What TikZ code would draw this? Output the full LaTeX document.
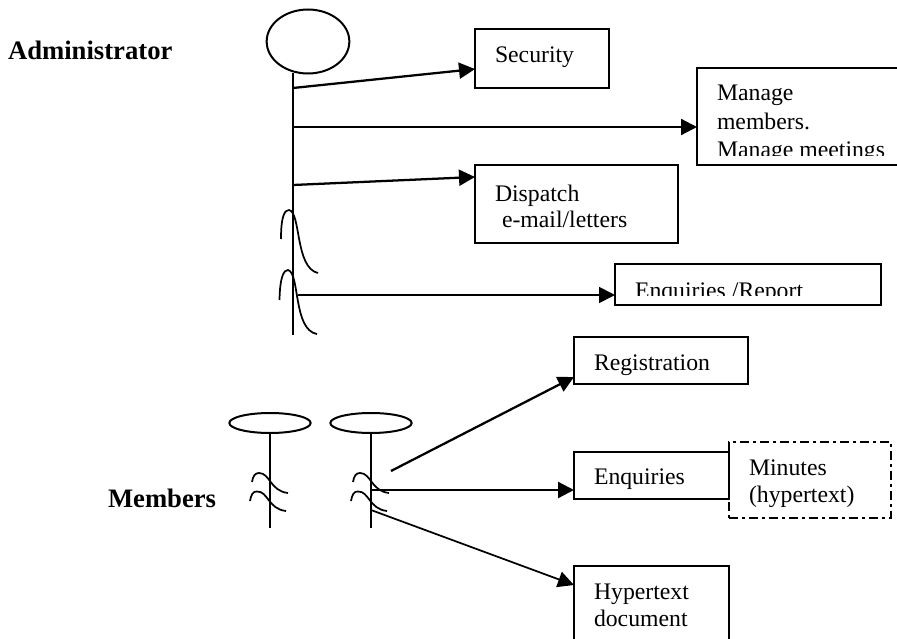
\documentclass[tikz,border=0pt]{standalone}
\usepackage{fontspec}
\setmainfont{Liberation Serif}
\usetikzlibrary{arrows.meta,shapes.geometric}
\tikzset{>={Triangle[length=12pt,width=12pt]}}
\tikzset{
    box/.style={draw,line width=1.6pt,anchor=north west,inner sep=0pt,outer sep=0pt},
    lbl/.style={anchor=base west,inner sep=0pt,outer sep=0pt,font=\fontsize{17.8}{20}\selectfont},
    role/.style={lbl,font=\fontsize{20}{22}\selectfont\bfseries},
    headshape/.style={draw,line width=1.5pt,ellipse,inner sep=0pt,outer sep=0pt},
    stick/.style={line width=1.7pt},
    curl/.style={line width=1.3pt}
}
\begin{document}
\begin{tikzpicture}[x=0.75pt,y=-0.75pt]
    \clip (0,0) rectangle (897,639);
    % administrator
    \node[headshape,minimum width=62pt,minimum height=48pt] (head) at (308,41.5) {};
    \coordinate (hip) at (293,335);
    \coordinate (neck) at (293,73);
    \draw[stick] (neck) -- (hip);
    \draw[curl] (281,239) .. controls (281,215) and (285,210) .. (289,210) .. controls (301,212) and (295,268) .. (318,273);
    \draw[curl] (279.5,300) .. controls (280,276) and (284,270) .. (288,270) .. controls (300,273) and (293,330) .. (317,334);
    \node[box,minimum width=100.5pt,minimum height=44.25pt] (security) at (475,29) {};
    \node[box,minimum width=160pt,minimum height=72.75pt] (manage) at (697,68) {};
    \node[box,minimum width=152.25pt,minimum height=58.5pt] (dispatch) at (475,165) {};
    \node[box,minimum width=199.5pt,minimum height=30.75pt] (report) at (615,264) {};
    \coordinate (a1) at (293,88);
    \coordinate (a2) at (293,127);
    \coordinate (a3) at (293,185);
    \coordinate (a4) at (298,295);
    \coordinate (securityin) at (475,69);
    \coordinate (managein) at (697,127);
    \coordinate (dispatchin) at (475,177);
    \coordinate (reportin) at (615,295);
    \draw[stick,->] (a1) -- (securityin);
    \draw[stick,->] (a2) -- (managein);
    \draw[stick,->] (a3) -- (dispatchin);
    \draw[line width=1.3pt,->] (a4) -- (reportin);
    \node[role] (administrator) at (8,59) {Administrator};
    \node[lbl] (tsecurity) at (495,62) {Security};
    \node[lbl] (tmanagea) at (717,100) {Manage};
    \node[lbl] (tmanageb) at (717,129) {members.};
    \begin{scope}
        \clip (700,130) rectangle (890,155);
        \node[lbl] (tmanagec) at (717,157) {Manage meetings};
    \end{scope}
    \node[lbl] (tdispatcha) at (495,201) {Dispatch};
    \node[lbl] (tdispatchb) at (502,227) {e-mail/letters};
    \begin{scope}
        \clip (620,270) rectangle (875,295);
        \node[lbl] (treport) at (635,298) {Enquiries /Report};
    \end{scope}
    % members
    \node[headshape,minimum width=61pt,minimum height=15pt] (heada) at (270,423) {};
    \node[headshape,minimum width=61pt,minimum height=15pt] (headb) at (371,423) {};
    \coordinate (feeta) at (270,528);
    \coordinate (feetb) at (371,528);
    \draw[stick] (heada.south) -- (feeta);
    \draw[stick] (headb.south) -- (feetb);
    \foreach \dx in {0,101} {
        \draw[curl] (252+\dx,482) .. controls (253+\dx,476) and (255+\dx,473) .. (259+\dx,473) .. controls (270+\dx,473) and (270+\dx,491) .. (288+\dx,493);
        \draw[curl] (250+\dx,501) .. controls (251+\dx,495) and (253+\dx,491) .. (257+\dx,491.5) .. controls (268+\dx,491) and (268+\dx,509) .. (286+\dx,511);
    }
    \node[box,minimum width=130.5pt,minimum height=35.25pt] (registration) at (574,337) {};
    \node[box,minimum width=116.25pt,minimum height=35.25pt] (enquiries) at (574,452) {};
    \node[box,dash pattern=on 7pt off 3pt on 2pt off 3pt,line width=1.3pt,minimum width=121.5pt,minimum height=57pt] (minutes) at (729,442) {};
    \node[box,minimum width=116.25pt,minimum height=60pt] (hypertext) at (574,566) {};
    \coordinate (m1) at (391,471);
    \coordinate (m2) at (371,490);
    \coordinate (m3) at (371,510);
    \coordinate (registrationin) at (574,377);
    \coordinate (enquiriesin) at (574,490);
    \coordinate (hypertextin) at (574,585);
    \draw[stick,->] (m1) -- (registrationin);
    \draw[stick,->] (m2) -- (enquiriesin);
    \draw[line width=1.3pt,->] (m3) -- (hypertextin);
    \node[role] (members) at (108,507) {Members};
    \node[lbl] (tregistration) at (594,370) {Registration};
    \node[lbl] (tenquiries) at (594,484) {Enquiries};
    \node[lbl] (tminutesa) at (749,475) {Minutes};
    \node[lbl] (tminutesb) at (749,502) {(hypertext)};
    \node[lbl] (thypertexta) at (594,599) {Hypertext};
    \node[lbl] (thypertextb) at (594,626) {document};
\end{tikzpicture}
\end{document}
